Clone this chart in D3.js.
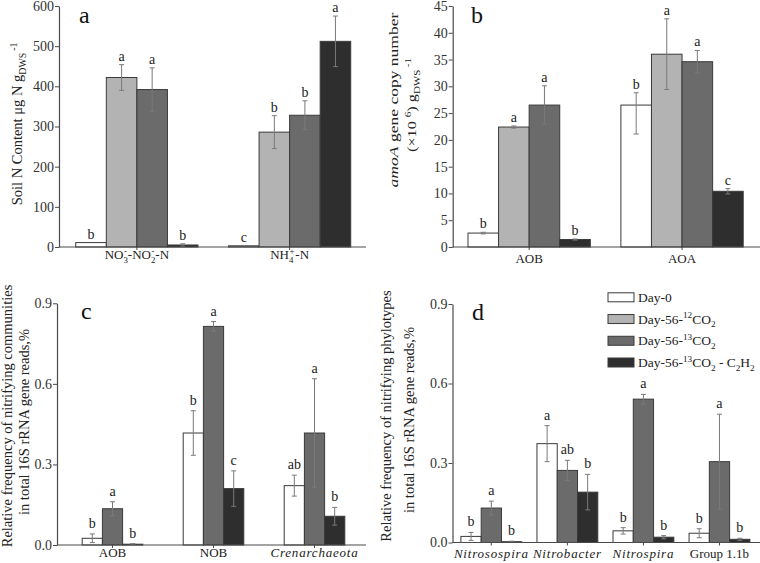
<!DOCTYPE html>
<html>
<head>
<meta charset="utf-8">
<script src="https://cdn.jsdelivr.net/npm/d3@7"></script>
<style>
  html, body { margin: 0; padding: 0; background: #fff; }
  svg { display: block; font-family: "Liberation Serif", "Times New Roman", serif; }
</style>
</head>
<body>
<svg id="chart" width="760" height="563"></svg>
<script>
// ---------------- DATA ----------------
const seriesNames = ["Day-0", "Day-56-12CO2", "Day-56-13CO2", "Day-56-13CO2 - C2H2"];

// Panel a: Soil N content
const aCategories = ["NO3-NO2-N", "NH4-N"];
const aTicks = [0, 100, 200, 300, 400, 500, 600];
const aValues = [[11, 3], [422, 286], [392, 328], [5, 512]];
const aErr    = [[0, 0], [32, 41], [54, 36], [3, 63]];
const aLetters = [["b", "c"], ["a", "b"], ["a", "b"], ["b", "a"]];

// Panel b: amoA gene copy number
const bCategories = ["AOB", "AOA"];
const bTicks = [0, 5, 10, 15, 20, 25, 30, 35, 40, 45];
const bValues = [[2.6, 26.5], [22.4, 36.0], [26.5, 34.6], [1.4, 10.4]];
const bErrLow  = [[0.15, 5.4], [0.2, 6.6], [3.5, 2.1], [0.1, 0.5]];
const bErrHigh = [[0.15, 2.3], [0.2, 6.6], [3.6, 2.1], [0.1, 0.5]];
const bLetters = [["b", "b"], ["a", "a"], ["a", "a"], ["b", "c"]];

// Panel c: nitrifying communities (series Day-0, 13CO2, 13CO2-C2H2)
const cCategories = ["AOB", "NOB", "Crenarchaeota"];
const cTicks = [0, 0.3, 0.6, 0.9];
const cSeries = [0, 2, 3];
const cValues = [[0.025, 0.417, 0.221], [0.135, 0.814, 0.417], [0.003, 0.21, 0.107]];
const cErr    = [[0.016, 0.083, 0.039], [0.026, 0.018, 0.202], [0.002, 0.066, 0.033]];
const cLetters = [["b", "b", "ab"], ["a", "a", "a"], ["b", "c", "b"]];

// Panel d: nitrifying phylotypes
const dCategories = ["Nitrosospira", "Nitrobacter", "Nitrospira", "Group 1.1b"];
const dTicks = [0, 0.3, 0.6, 0.9];
const dSeries = [0, 2, 3];
const dValues = [[0.023, 0.373, 0.044, 0.035], [0.13, 0.272, 0.541, 0.305], [0.003, 0.19, 0.02, 0.012]];
const dErr    = [[0.015, 0.068, 0.012, 0.017], [0.026, 0.038, 0.018, 0.179], [0.002, 0.067, 0.006, 0.004]];
const dLetters = [["b", "a", "b", "b"], ["a", "ab", "a", "a"], ["b", "b", "b", "b"]];

// ---------------- STYLE ----------------
const fills = ["#ffffff", "#b3b3b3", "#6b6b6b", "#2e2e2e"];
const barStroke = "#3a3a3a";
const axisColor = "#4a4a4a";
const errColor = "#7a7a7a";
const FONT = "Liberation Serif, Times New Roman, serif";

const svg = d3.select("#chart");

// rich text helper: segments [text, kind, dx, italic]
function rich(sel, segs, size) {
  let cur = 0;
  segs.forEach(([s, k, dxv, ital]) => {
    const target = k === "sub" ? size * 0.28 : k === "sup" ? -size * 0.38 : 0;
    const ts = sel.append("tspan").text(s);
    if (target - cur !== 0) ts.attr("dy", target - cur);
    if (dxv) ts.attr("dx", dxv);
    if (k !== "n") ts.attr("font-size", size * 0.68);
    if (ital) ts.attr("font-style", "italic");
    cur = target;
  });
}

const catLabelSegs = {
  "NO3-NO2-N": [["NO", "n"], ["3", "sub"], ["-", "sup", -4], ["-NO", "n", 1], ["2", "sub"], ["-", "sup", -4], ["-N", "n", 1]],
  "NH4-N": [["NH", "n"], ["4", "sub"], ["+", "sup", -4], ["-N", "n", 1]]
};
const italicCats = new Set(["Crenarchaeota", "Nitrosospira", "Nitrobacter", "Nitrospira"]);

const panels = [
  { label: "a", labelPos: [79, 23], cats: aCategories, series: [0, 1, 2, 3], values: aValues, errLo: aErr, errHi: aErr,
    letters: aLetters, ticks: aTicks, fmt: d3.format("d"), yDomain: [0, 600], yRange: [247, 6],
    axisX: 59, xRange: [60.5, 366], pi: 0.2, po: 0.1, axisEnd: 366, gap: 4, catY: 259 },
  { label: "b", labelPos: [471, 23], cats: bCategories, series: [0, 1, 2, 3], values: bValues, errLo: bErrLow, errHi: bErrHigh,
    letters: bLetters, ticks: bTicks, fmt: d3.format("d"), yDomain: [0, 45], yRange: [247, 6],
    axisX: 452.7, xRange: [452.7, 758.5], pi: 0.2, po: 0.1, axisEnd: 760, gap: 4, catY: 263 },
  { label: "c", labelPos: [81, 319], cats: cCategories, series: cSeries, values: cValues, errLo: cErr, errHi: cErr,
    letters: cLetters, ticks: cTicks, fmt: d3.format(".1f"), yDomain: [0, 0.9], yRange: [545, 303.3],
    axisX: 57, xRange: [62, 365], pi: 0.4, po: 0.2, axisEnd: 366, gap: 6, catY: 557 },
  { label: "d", labelPos: [472, 320], cats: dCategories, series: dSeries, values: dValues, errLo: dErr, errHi: dErr,
    letters: dLetters, ticks: dTicks, fmt: d3.format(".1f"), yDomain: [0, 0.9], yRange: [542.5, 304],
    axisX: 452.5, xRange: [453.3, 757.5], pi: 0.2, po: 0.1, axisEnd: 760, gap: 6, catY: 558 }
];

panels.forEach(p => {
  const g = svg.append("g");
  const y = d3.scaleLinear().domain(p.yDomain).range(p.yRange);
  const x = d3.scaleBand().domain(p.cats).range(p.xRange).paddingInner(p.pi).paddingOuter(p.po);
  const xs = d3.scaleBand().domain(d3.range(p.series.length)).range([0, x.bandwidth()]);

  // y axis
  const yAxis = d3.axisLeft(y).tickValues(p.ticks).tickFormat(p.fmt).tickSize(4).tickSizeOuter(0);
  const ya = g.append("g").attr("transform", `translate(${p.axisX},0)`).call(yAxis);
  ya.attr("font-family", FONT);
  ya.select(".domain").attr("stroke", axisColor).attr("stroke-width", 1.2);
  ya.selectAll(".tick line").attr("stroke", axisColor).attr("stroke-width", 1);
  ya.selectAll(".tick text").attr("font-size", 14).attr("fill", "#333").attr("x", -5);

  // x axis ticks (no domain; baseline drawn separately)
  const xAxis = d3.axisBottom(x).tickSize(3).tickSizeOuter(0).tickFormat("");
  const xa = g.append("g").attr("transform", `translate(0,${p.yRange[0]})`).call(xAxis);
  xa.select(".domain").remove();
  xa.selectAll(".tick line").attr("stroke", axisColor);

  // bars
  p.series.forEach((sIdx, k) => {
    p.cats.forEach((cat, i) => {
      const v = p.values[k][i];
      const bx = x(cat) + xs(k);
      const bw = xs.bandwidth();
      g.append("rect").attr("x", bx).attr("y", y(v)).attr("width", bw).attr("height", y(0) - y(v))
        .attr("fill", fills[sIdx]).attr("stroke", barStroke).attr("stroke-width", 1);
      const lo = p.errLo[k][i], hi = p.errHi[k][i];
      const cx = bx + bw / 2;
      if (hi > 0 || lo > 0) {
        const y1 = y(v + hi), y2 = y(Math.max(0, v - lo));
        g.append("line").attr("x1", cx).attr("x2", cx).attr("y1", y1).attr("y2", y2)
          .attr("stroke", errColor).attr("stroke-width", 1);
        [y1, y2].forEach(yy => g.append("line").attr("x1", cx - 2.5).attr("x2", cx + 2.5)
          .attr("y1", yy).attr("y2", yy).attr("stroke", errColor).attr("stroke-width", 1));
      }
      g.append("text").attr("x", cx).attr("y", y(v + hi) - p.gap).attr("text-anchor", "middle")
        .attr("font-size", 14).attr("fill", "#222").text(p.letters[k][i]);
    });
  });

  // x baseline
  g.append("line").attr("x1", p.axisX).attr("x2", p.axisEnd).attr("y1", p.yRange[0]).attr("y2", p.yRange[0])
    .attr("stroke", axisColor).attr("stroke-width", 1.2);

  // category labels
  p.cats.forEach(cat => {
    const t = g.append("text").attr("x", x(cat) + x.bandwidth() / 2).attr("y", p.catY)
      .attr("text-anchor", "middle").attr("font-size", 13).attr("fill", "#222");
    if (catLabelSegs[cat]) rich(t, catLabelSegs[cat], 13);
    else if (italicCats.has(cat)) t.attr("font-style", "italic").attr("letter-spacing", 0.8).text(cat);
    else t.text(cat);
  });

  // panel letter
  g.append("text").attr("x", p.labelPos[0]).attr("y", p.labelPos[1]).attr("font-size", 24)
    .attr("fill", "#111").text(p.label);
});

// ---------------- Y AXIS TITLES ----------------
function yTitle(x, y, segs, size, sx) {
  const t = svg.append("text").attr("transform", `translate(${x},${y}) rotate(-90) scale(${sx || 1},1)`)
    .attr("text-anchor", "middle").attr("font-size", size).attr("fill", "#222");
  rich(t, segs, size);
}
yTitle(22, 124, [["Soil N Content μg N g", "n"], ["DWS", "sub"], ["-1", "sup", 2]], 14.5);
yTitle(398, 100, [["amoA", "n", 0, true], [" gene copy number", "n"]], 13.5, 1.3);
yTitle(416, 105, [["(×10 ", "n"], ["6", "sup"], [") g", "n"], ["DWS", "sub"], ["-1", "sup", 2]], 13.5, 1.2);
yTitle(12, 416, [["Relative frequency of nitrifying communities", "n"]], 14.5);
yTitle(29, 422, [["in total 16S rRNA gene reads,%", "n"]], 14.5);
yTitle(391, 416, [["Relative frequency of nitrifying phylotypes", "n"]], 14.5);
yTitle(414, 420, [["in total 16S rRNA gene reads,%", "n"]], 14.5);

// ---------------- LEGEND ----------------
const legendSegs = [
  [["Day-0", "n"]],
  [["Day-56-", "n"], ["12", "sup"], ["CO", "n"], ["2", "sub"]],
  [["Day-56-", "n"], ["13", "sup"], ["CO", "n"], ["2", "sub"]],
  [["Day-56-", "n"], ["13", "sup"], ["CO", "n"], ["2", "sub"], [" - C", "n"], ["2", "sub"], ["H", "n"], ["2", "sub"]]
];
const legY = d3.scalePoint().domain(seriesNames).range([297.3, 362.5]);
const leg = svg.append("g");
seriesNames.forEach((name, i) => {
  const cy = legY(name);
  leg.append("rect").attr("x", 608).attr("y", cy - 4.5).attr("width", 26).attr("height", 9)
    .attr("fill", fills[i]).attr("stroke", barStroke).attr("stroke-width", 1);
  const t = leg.append("text").attr("x", 638).attr("y", cy + 4.5).attr("font-size", 13.5).attr("fill", "#222");
  rich(t, legendSegs[i], 13.5);
});
</script>
</body>
</html>
